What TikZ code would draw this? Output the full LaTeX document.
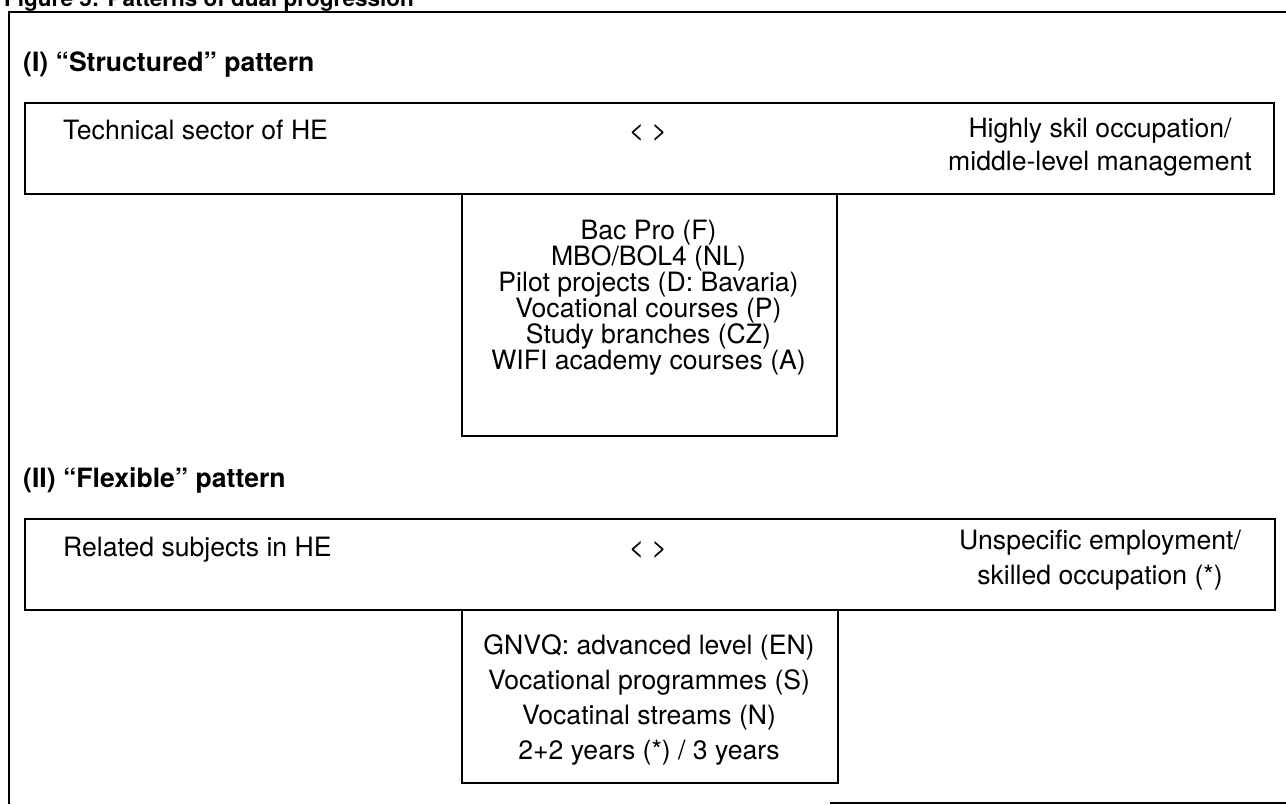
\documentclass[tikz,border=0pt]{standalone}
\usepackage{fontspec}
\setmainfont{TeX Gyre Heros}
\begin{document}
\begin{tikzpicture}[x=1pt,y=-1pt,
  frame/.style={line width=1.5pt},
  panel/.style={draw,line width=1.5pt,anchor=north west,inner sep=0pt},
  body/.style={font=\fontsize{26.6}{26}\selectfont,inner sep=0pt},
  head/.style={font=\fontsize{26.6}{26}\selectfont\bfseries,inner sep=0pt},
  caption/.style={font=\fontsize{22.5}{24}\selectfont\bfseries,inner sep=0pt}]
\useasboundingbox (0,0) rectangle (1286,804);

% figure caption, running off the top edge
\node[caption,anchor=base west] (cap) at (4,6.5) {Figure 5: Patterns of dual progression};

% outer frame (open on the right, bottom edge only partly drawn)
\coordinate (ftr) at (1286,12);
\coordinate (ftl) at (9,12);
\coordinate (fbl) at (9,804);
\coordinate (fbs) at (830,803);
\coordinate (fbe) at (1286,803);
\draw[frame] (ftr) -- (ftl) -- (fbl);
\draw[frame] (fbs) -- (fbe);

% (I) structured pattern
\node[head,anchor=base west] (titleI) at (23,71) {(I) “Structured” pattern};
\node[panel,minimum width=1249pt,minimum height=91pt] (rowI) at (24,102) {};
\node[body,anchor=base west] (heI) at (63,139) {Technical sector of HE};
\node[body,anchor=base] (arrI) at (648,139) {< >};
\node[body,align=center,font=\fontsize{26.6}{33}\selectfont] (jobI) at (1100,147) {Highly skil occupation/\\middle-level management};
\node[panel,minimum width=375pt,minimum height=242pt] (progI) at (461,193) {};
\node[body,align=center,font=\fontsize{26.6}{26}\selectfont] (listI) at (648.5,298)
  {Bac Pro (F)\\MBO/BOL4 (NL)\\Pilot projects (D: Bavaria)\\Vocational courses (P)\\Study branches (CZ)\\WIFI academy courses (A)};

% (II) flexible pattern
\node[head,anchor=base west] (titleII) at (23,487) {(II) “Flexible” pattern};
\node[panel,minimum width=1250pt,minimum height=91pt] (rowII) at (24,518) {};
\node[body,anchor=base west] (heII) at (63,556) {Related subjects in HE};
\node[body,anchor=base] (arrII) at (648,556) {< >};
\node[body,align=center,font=\fontsize{26.6}{35}\selectfont] (jobII) at (1100,560) {Unspecific employment/\\skilled occupation (*)};
\node[panel,minimum width=376pt,minimum height=173pt] (progII) at (461,609) {};
\node[body,align=center,font=\fontsize{26.6}{35}\selectfont] (listII) at (649,700)
  {GNVQ: advanced level (EN)\\Vocational programmes (S)\\Vocatinal streams (N)\\2+2 years (*) / 3 years};
\end{tikzpicture}
\end{document}
